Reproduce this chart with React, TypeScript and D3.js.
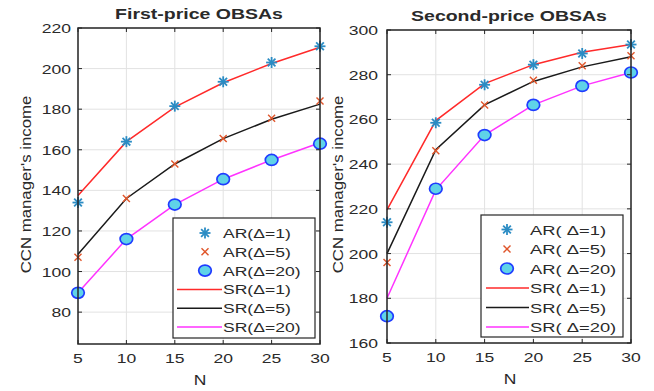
import React from "react";
import * as d3 from "d3";

const N = [5, 10, 15, 20, 25, 30];
const xTicks = [5, 10, 15, 20, 25, 30];

// First-price
const fpAR1 = [134, 164, 181.5, 193.5, 203, 211];
const fpAR5 = [107, 136, 153, 165.5, 175.5, 184];
const fpAR20 = [89.5, 116, 133, 145.5, 155, 163];
const fpSR1 = [137.5, 164, 181, 193, 202.5, 210.5];
const fpSR5 = [108.5, 136, 153, 165.5, 175, 182.5];
const fpSR20 = [89.5, 116, 133, 145.5, 155, 163.5];
const fpYTicks = [80, 100, 120, 140, 160, 180, 200, 220];

// Second-price
const spAR1 = [214, 258.5, 275.5, 284.5, 289.5, 293.5];
const spAR5 = [196, 246, 266.5, 277.5, 284, 288.5];
const spAR20 = [172, 229, 253, 266.5, 275, 281];
const spSR1 = [219.5, 259.5, 276, 284.5, 290, 293.5];
const spSR5 = [200, 246.5, 266.5, 277, 283.5, 288];
const spSR20 = [180, 228.5, 253, 266.5, 275, 281];
const spYTicks = [160, 180, 200, 220, 240, 260, 280, 300];

const legendLabels = ["AR(Δ=1)", "AR(Δ=5)", "AR(Δ=20)", "SR(Δ=1)", "SR(Δ=5)", "SR(Δ=20)"];
const legendLabels2 = ["AR( Δ=1)", "AR( Δ=5)", "AR( Δ=20)", "SR( Δ=1)", "SR( Δ=5)", "SR( Δ=20)"];

const FONT = "'Liberation Sans', Arial, sans-serif";
const TXT = "#2a2a2a";
const RED = "#ff2a2a";
const BLACK = "#1a1a1a";
const MAG = "#ff33ff";
const STAR = "#2b8cc4";
const XCOL = "#e0552a";
const CEDGE = "#1f3cff";
const CFILL = "#5fd3e8";
const SX = 1.35;

function Star({ x, y }: { x: number; y: number }) {
  const r = 5.5;
  return (
    <g stroke={STAR} strokeWidth={1.8}>
      <line x1={x - r} y1={y} x2={x + r} y2={y} />
      <line x1={x} y1={y - r} x2={x} y2={y + r} />
      <line x1={x - r * 0.7} y1={y - r * 0.7} x2={x + r * 0.7} y2={y + r * 0.7} />
      <line x1={x - r * 0.7} y1={y + r * 0.7} x2={x + r * 0.7} y2={y - r * 0.7} />
    </g>
  );
}
function XMark({ x, y }: { x: number; y: number }) {
  const r = 3.5;
  return (
    <g stroke={XCOL} strokeWidth={1.4}>
      <line x1={x - r} y1={y - r} x2={x + r} y2={y + r} />
      <line x1={x - r} y1={y + r} x2={x + r} y2={y - r} />
    </g>
  );
}
function Circ({ x, y }: { x: number; y: number }) {
  return <ellipse cx={x} cy={y} rx={6.3} ry={5.5} fill={CFILL} stroke={CEDGE} strokeWidth={1.7} />;
}

function SText({ x, y, anchor, size, sx, bold, children }: any) {
  return (
    <text transform={`translate(${x},${y}) scale(${sx},1)`} textAnchor={anchor} fontSize={size}
      fontWeight={bold ? "bold" : "normal"} fill={TXT}>{children}</text>
  );
}

type PanelProps = {
  left: number; right: number; top: number; bottom: number;
  ymin: number; ymax: number; yTicks: number[];
  ar1: number[]; ar5: number[]; ar20: number[];
  sr1: number[]; sr5: number[]; sr20: number[];
  title: string; labels: string[];
  legend: { x: number; y: number; w: number; h: number; row0: number; rowH: number; lx0: number; lx1: number; mx: number; tx: number; sx: number };
  ylabelX: number; ytGap: number;
};

function Panel(p: PanelProps) {
  const x = d3.scaleLinear().domain([5, 30]).range([p.left, p.right]);
  const y = d3.scaleLinear().domain([p.ymin, p.ymax]).range([p.bottom, p.top]);
  const line = d3.line<number>().x((_, i) => x(N[i])).y((d) => y(d));
  const tl = 4;
  const L = p.legend;
  return (
    <g fontFamily={FONT}>
      <rect x={p.left} y={p.top} width={p.right - p.left} height={p.bottom - p.top} fill="white" />
      {xTicks.map((t) => (
        <line key={"gx" + t} x1={x(t)} x2={x(t)} y1={p.top} y2={p.bottom} stroke="#e2e2e2" strokeWidth={1} />
      ))}
      {p.yTicks.map((t) => (
        <line key={"gy" + t} x1={p.left} x2={p.right} y1={y(t)} y2={y(t)} stroke="#e2e2e2" strokeWidth={1} />
      ))}
      <path d={line(p.sr20)!} fill="none" stroke={MAG} strokeWidth={1.5} />
      <path d={line(p.sr5)!} fill="none" stroke={BLACK} strokeWidth={1.5} />
      <path d={line(p.sr1)!} fill="none" stroke={RED} strokeWidth={1.5} />
      {p.ar1.map((v, i) => <Star key={"s" + i} x={x(N[i])} y={y(v)} />)}
      {p.ar5.map((v, i) => <XMark key={"x" + i} x={x(N[i])} y={y(v)} />)}
      {p.ar20.map((v, i) => <Circ key={"c" + i} x={x(N[i])} y={y(v)} />)}
      {xTicks.map((t) => (
        <g key={"tx" + t}>
          <line x1={x(t)} x2={x(t)} y1={p.bottom} y2={p.bottom - tl} stroke="#262626" />
          <line x1={x(t)} x2={x(t)} y1={p.top} y2={p.top + tl} stroke="#262626" />
          <SText x={x(t)} y={p.bottom + 19} anchor="middle" size={13} sx={SX}>{t}</SText>
        </g>
      ))}
      {p.yTicks.map((t) => (
        <g key={"ty" + t}>
          <line x1={p.left} x2={p.left + tl} y1={y(t)} y2={y(t)} stroke="#262626" />
          <line x1={p.right} x2={p.right - tl} y1={y(t)} y2={y(t)} stroke="#262626" />
          <SText x={p.left - p.ytGap} y={y(t) + 5} anchor="end" size={13} sx={SX}>{t}</SText>
        </g>
      ))}
      <rect x={p.left} y={p.top} width={p.right - p.left} height={p.bottom - p.top} fill="none" stroke="#262626" strokeWidth={1.5} />
      <SText x={(p.left + p.right) / 2} y={p.top - 9} anchor="middle" size={15} sx={1.3} bold>{p.title}</SText>
      <SText x={(p.left + p.right) / 2 + 1} y={p.bottom + 41} anchor="middle" size={14} sx={1.25}>N</SText>
      <text transform={`translate(${p.ylabelX},184.5) rotate(-90) scale(1.2,1)`} textAnchor="middle" fontSize={14} fill={TXT}>CCN manager's income</text>
      <rect x={L.x} y={L.y} width={L.w} height={L.h} fill="white" stroke="#262626" strokeWidth={1.2} />
      {p.labels.map((lab, i) => {
        const cy = L.row0 + L.rowH * i;
        return (
          <g key={"lg" + i}>
            {i === 0 && <Star x={L.mx} y={cy} />}
            {i === 1 && <XMark x={L.mx} y={cy} />}
            {i === 2 && <Circ x={L.mx} y={cy} />}
            {i >= 3 && <line x1={L.lx0} x2={L.lx1} y1={cy} y2={cy} stroke={[RED, BLACK, MAG][i - 3]} strokeWidth={1.5} />}
            <SText x={L.tx} y={cy + 5} anchor="start" size={13.5} sx={L.sx}>{lab}</SText>
          </g>
        );
      })}
    </g>
  );
}

export default function App() {
  return (
    <svg width={654} height={391} style={{ display: "block", position: "absolute", left: 0, top: 0 }}>
      <rect width={654} height={391} fill="white" />
      <Panel left={78} right={320} top={28} bottom={344} ymin={64.3} ymax={220} yTicks={fpYTicks}
        ar1={fpAR1} ar5={fpAR5} ar20={fpAR20} sr1={fpSR1} sr5={fpSR5} sr20={fpSR20}
        title="First-price OBSAs" labels={legendLabels} ytGap={7}
        legend={{ x: 173, y: 218, w: 142, h: 120, row0: 233, rowH: 18.8, lx0: 177, lx1: 222, mx: 205, tx: 223, sx: 1.3 }}
        ylabelX={31} />
      <Panel left={387} right={631} top={30} bottom={343} ymin={160} ymax={300} yTicks={spYTicks}
        ar1={spAR1} ar5={spAR5} ar20={spAR20} sr1={spSR1} sr5={spSR5} sr20={spSR20}
        title="Second-price OBSAs" labels={legendLabels2} ytGap={9}
        legend={{ x: 481, y: 215, w: 142, h: 122, row0: 229.5, rowH: 19.5, lx0: 486, lx1: 529, mx: 507, tx: 530, sx: 1.36 }}
        ylabelX={343} />
    </svg>
  );
}
